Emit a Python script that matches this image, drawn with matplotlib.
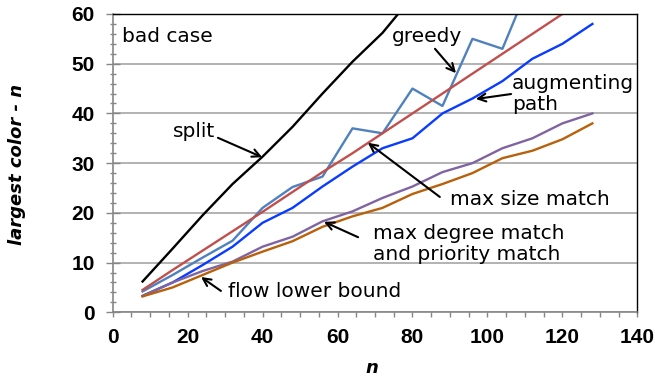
import matplotlib
matplotlib.use("Agg")
import matplotlib.pyplot as plt
from matplotlib.ticker import MultipleLocator
from matplotlib.font_manager import FontProperties

n_all = [8, 16, 24, 32, 40, 48, 56, 64, 72, 80, 88, 96, 104, 112, 120, 128]
n_split = [8, 16, 24, 32, 40, 48, 56, 64, 72, 80]
split = [6.2, 12.8, 19.5, 25.8, 31.3, 37.3, 44.0, 50.4, 56.2, 63.5]
n_greedy = [8, 16, 24, 32, 40, 48, 56, 64, 72, 80, 88, 96, 104, 112]
greedy = [4.2, 7.5, 11.0, 14.4, 21.0, 25.2, 27.3, 37.0, 36.0, 45.0, 41.5, 55.0, 53.0, 67.5]
max_size = [4.5, 8.5, 12.4, 16.3, 20.2, 24.2, 28.2, 32.0, 36.0, 40.0, 44.0, 48.0, 52.0, 56.0, 60.0, 64.0]
augmenting = [3.3, 6.0, 9.5, 13.2, 18.0, 21.0, 25.3, 29.3, 33.0, 35.0, 40.0, 43.0, 46.5, 51.0, 54.0, 58.0]
max_degree = [3.3, 6.0, 8.3, 10.2, 13.2, 15.2, 18.3, 20.3, 23.0, 25.3, 28.2, 30.0, 33.0, 35.0, 38.0, 40.0]
flow_lower = [3.2, 5.0, 7.5, 10.0, 12.2, 14.3, 17.2, 19.3, 21.0, 23.8, 25.8, 28.0, 31.0, 32.5, 34.8, 38.0]

xticks = [0, 20, 40, 60, 80, 100, 120, 140]
yticks = [0, 10, 20, 30, 40, 50, 60]

fig = plt.figure(figsize=(6.55, 3.77), dpi=100)
ax = fig.add_axes([0.1719, 0.1716, 0.8012, 0.7913])

lw = 1.7
ax.plot(n_split, split, color="#000000", lw=lw)
ax.plot(n_greedy, greedy, color="#4f81bd", lw=lw)
ax.plot(n_all, max_size, color="#c0504d", lw=lw)
ax.plot(n_all, augmenting, color="#0a3cff", lw=lw)
ax.plot(n_all, max_degree, color="#8064a2", lw=lw)
ax.plot(n_all, flow_lower, color="#b8600a", lw=lw)

ax.set_xlim(0, 140)
ax.set_ylim(0, 60)
ax.set_xticks(xticks)
ax.set_yticks(yticks)
ax.xaxis.set_minor_locator(MultipleLocator(5))
ax.yaxis.set_minor_locator(MultipleLocator(2))
ax.yaxis.grid(True, which="major", color="#a6a6a6", lw=1.2)
ax.set_axisbelow(True)

for s in ["left", "bottom"]:
    ax.spines[s].set_color("#868686")
    ax.spines[s].set_linewidth(1.2)
for s in ["top", "right"]:
    ax.spines[s].set_color("#000000")
    ax.spines[s].set_linewidth(1.0)

ax.tick_params(axis="y", which="major", direction="inout", length=10, width=1.0, color="#868686", pad=8)
ax.tick_params(axis="y", which="minor", direction="inout", length=5, width=1.0, color="#868686")
ax.tick_params(axis="x", which="major", direction="out", length=3.6, width=1.0, color="#868686", pad=8)
ax.tick_params(axis="x", which="minor", direction="out", length=3.6, width=1.0, color="#868686")
ax.set_xticklabels([str(v) for v in xticks])
ax.set_yticklabels([str(v) for v in yticks])
tick_fp = FontProperties(family="Liberation Sans", weight="bold", size=15)
for lab in ax.get_xticklabels() + ax.get_yticklabels():
    lab.set_fontproperties(tick_fp)

fig.text(372 / 655, 1 - 368 / 377, "n", fontsize=13, fontweight="bold", style="italic",
         ha="center", va="center")
fig.text(17 / 655, 1 - 164 / 377, "largest color - n", fontsize=13, fontweight="bold",
         style="italic", ha="center", va="center", rotation=90)

fs = 14.5
ax.text(2.5, 55.4, "bad case", fontsize=fs, ha="left", va="center")
ax.text(16.1, 36.3, "split", fontsize=fs, ha="left", va="center")
ax.text(74.5, 55.4, "greedy", fontsize=fs, ha="left", va="center")
ax.text(106.5, 43.9, "augmenting\npath", fontsize=fs, ha="left", va="center", linespacing=1.1)
ax.text(90.0, 22.6, "max size match", fontsize=fs, ha="left", va="center")
ax.text(69.4, 13.7, "max degree match\nand priority match", fontsize=fs, ha="left", va="center", linespacing=1.1)
ax.text(30.8, 4.1, "flow lower bound", fontsize=fs, ha="left", va="center")

arrows = [
    ((28.1, 35.1), (39.9, 31.2)),
    ((86.0, 53.0), (91.6, 48.1)),
    ((106.3, 43.9), (96.9, 42.9)),
    ((87.3, 23.2), (68.1, 34.1)),
    ((65.5, 15.1), (56.4, 18.2)),
    ((28.9, 4.3), (23.6, 7.1)),
]
for start, end in arrows:
    ax.annotate("", xy=end, xytext=start,
                arrowprops=dict(arrowstyle="->", color="black", lw=1.5,
                                mutation_scale=14, shrinkA=0, shrinkB=0))

fig.savefig("out.png", dpi=100)
